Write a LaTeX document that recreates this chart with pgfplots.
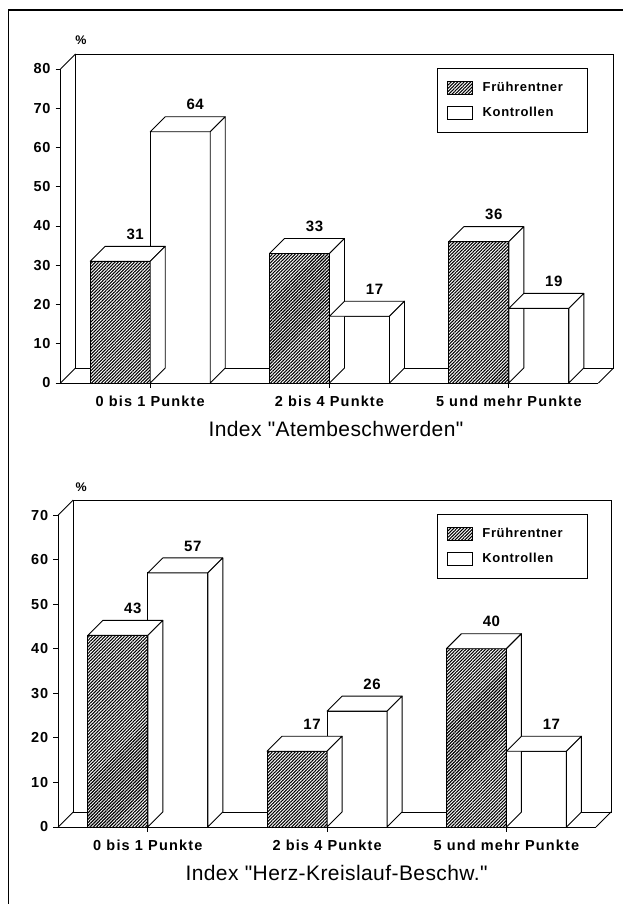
\documentclass[border=0pt]{standalone}
\usepackage{fontspec}
\setmainfont{Liberation Sans}
\newfontfamily\plainfam{Liberation Sans}
\usepackage{pgfplots}
\pgfplotsset{compat=1.18}
\usepackage{pgfplotstable}
\usetikzlibrary{patterns.meta}

\newcommand\tickfont{\fontsize{14.5}{16}\selectfont\bfseries\addfontfeatures{LetterSpace=6}}
\newcommand\catfont{\fontsize{14.5}{17}\selectfont\bfseries\addfontfeatures{LetterSpace=8}}
\newcommand\valfont{\fontsize{15}{17}\selectfont\bfseries\addfontfeatures{LetterSpace=4}}
\newcommand\legfont{\fontsize{13}{15}\selectfont\bfseries\addfontfeatures{LetterSpace=5}}
\newcommand\titfont{\plainfam\fontsize{21}{25}\selectfont\addfontfeatures{LetterSpace=2}}
\newcommand\pctfont{\fontsize{12.5}{14}\selectfont\bfseries}

\pgfdeclareplotmark{nothing}{}

\pgfplotstableread{
idx F K
0 31 64
1 33 17
2 36 19
}\dataA

\pgfplotstableread{
idx F K
0 43 57
1 17 26
2 40 17
}\dataB

\tikzset{hatch/.style={fill=white, postaction={pattern={Lines[angle=45,distance=2.3pt,line width=1.1pt]}, pattern color=black}}}

\pgfplotsset{
  bar3d/.style={
    x=179.3pt, xmin=-0.5, xmax=2.5, ymin=0,
    anchor=origin, clip=false,
    axis x line=bottom, axis y line=left,
    axis line style={-, line width=0.9pt},
    tick style={line width=0.9pt, black},
    tick align=outside, major tick length=5pt,
    xtick={0,1,2},
    xticklabels={0 bis 1 Punkte, 2 bis 4 Punkte, 5 und mehr Punkte},
    xticklabel style={font=\catfont, yshift=-4pt},
    yticklabel style={font=\tickfont, xshift=-1.5pt},
    /pgf/number format/assume math mode=true,
    every axis x label/.style={anchor=base, yshift=-53.5pt, font=\titfont},
    every axis y label/.style={anchor=center, font=\pctfont},
    legend style={anchor=north west, draw=black, line width=0.8pt,
      inner xsep=10pt, inner ysep=12pt, row sep=10pt, column sep=7.5pt,
      nodes={inner sep=2pt}, font=\legfont},
    legend cell align=left,
    legend image code/.code={\draw[##1, line width=0.7pt] (0pt,-6.25pt) rectangle (25pt,6.25pt);},
  },
  front/.style={forget plot, ybar, bar width=60pt, draw=black, line width=0.9pt},
  sideF/.style={forget plot, only marks, scatter, mark=nothing,
    visualization depends on={rawy \as \val},
    scatter/@pre marker code/.code={%
      \pgfmathsetlengthmacro\hh{\val*\yu}%
      \pgfmathtruncatemacro\vv{round(\val)}%
      \path[draw=black, fill=white, line width=0.9pt, line join=round]
        (-60pt,0pt) -- (0pt,0pt) -- (15pt,15pt) -- (-45pt,15pt) -- cycle;
      \path[draw=black, fill=white, line width=0.9pt, line join=round]
        (0pt,0pt) -- (15pt,15pt) -- (15pt,15pt-\hh) -- (0pt,-\hh) -- cycle;
      \node[font=\valfont, inner sep=0pt] at (-15pt,27pt) {\vv};
    },
    scatter/@post marker code/.code={},
  },
  sideK/.style={forget plot, only marks, scatter, mark=nothing,
    visualization depends on={rawy \as \val},
    scatter/@pre marker code/.code={%
      \pgfmathsetlengthmacro\hh{\val*\yu}%
      \pgfmathtruncatemacro\vv{round(\val)}%
      \path[draw=black, fill=white, line width=0.9pt, line join=round]
        (0pt,0pt) -- (60pt,0pt) -- (75pt,15pt) -- (15pt,15pt) -- cycle;
      \path[draw=black, fill=white, line width=0.9pt, line join=round]
        (60pt,0pt) -- (75pt,15pt) -- (75pt,15pt-\hh) -- (60pt,-\hh) -- cycle;
      \node[font=\valfont, inner sep=0pt] at (45pt,27pt) {\vv};
    },
    scatter/@post marker code/.code={},
  },
}

\begin{document}
\begin{tikzpicture}
\path[use as bounding box] (0pt,0pt) rectangle (623pt,904pt);
\draw[line width=1.2pt] (8.7pt,0pt) -- (8.7pt,894pt) -- (623pt,894pt);

% ---------- top chart ----------
\def\yu{3.925}
\begin{axis}[bar3d,
  at={(150.2pt,521pt)}, y=3.925pt, ymax=80,
  ytick={0,10,...,80},
  xlabel={Index "Atembeschwerden"},
  xlabel style={at={(axis cs:1.036,0)}},
  ylabel={\%},
  ylabel style={at={(axis cs:-0.386,87.4)}},
  legend style={at={(axis cs:1.6,80.25)}},
]
\draw[line width=0.9pt] ([shift={(15pt,15pt)}]axis cs:-0.5,0) rectangle ([shift={(15pt,15pt)}]axis cs:2.5,80);
\draw[line width=0.9pt] (axis cs:-0.5,80) -- ++(15pt,15pt);
\draw[line width=0.9pt] (axis cs:-0.5,0) -- ++(15pt,15pt);
\draw[line width=0.9pt] (axis cs:2.5,0) -- ++(15pt,15pt);
\addplot[front, bar shift=-30pt, hatch] table[x=idx,y=F]{\dataA};
\addplot[sideF] table[x=idx,y=F]{\dataA};
\addplot[front, bar shift=30pt, fill=white] table[x=idx,y=K]{\dataA};
\addplot[sideK] table[x=idx,y=K]{\dataA};
\addlegendimage{hatch, draw=black}
\addlegendentry{\makebox[93pt][l]{Frührentner}}
\addlegendimage{fill=white, draw=black}
\addlegendentry{\makebox[93pt][l]{Kontrollen}}
\end{axis}

% ---------- bottom chart ----------
\def\yu{4.457}
\begin{axis}[bar3d,
  at={(147.8pt,77pt)}, y=4.457pt, ymax=70,
  ytick={0,10,...,70},
  xlabel={Index "Herz-Kreislauf-Beschw."},
  xlabel style={at={(axis cs:1.053,0)}},
  ylabel={\%},
  ylabel style={at={(axis cs:-0.372,76.3)}},
  legend style={at={(axis cs:1.612,70.2)}},
]
\draw[line width=0.9pt] ([shift={(15pt,15pt)}]axis cs:-0.5,0) rectangle ([shift={(15pt,15pt)}]axis cs:2.5,70);
\draw[line width=0.9pt] (axis cs:-0.5,70) -- ++(15pt,15pt);
\draw[line width=0.9pt] (axis cs:-0.5,0) -- ++(15pt,15pt);
\draw[line width=0.9pt] (axis cs:2.5,0) -- ++(15pt,15pt);
\addplot[front, bar shift=-30pt, hatch] table[x=idx,y=F]{\dataB};
\addplot[sideF] table[x=idx,y=F]{\dataB};
\addplot[front, bar shift=30pt, fill=white] table[x=idx,y=K]{\dataB};
\addplot[sideK] table[x=idx,y=K]{\dataB};
\addlegendimage{hatch, draw=black}
\addlegendentry{\makebox[93pt][l]{Frührentner}}
\addlegendimage{fill=white, draw=black}
\addlegendentry{\makebox[93pt][l]{Kontrollen}}
\end{axis}
\end{tikzpicture}
\end{document}
